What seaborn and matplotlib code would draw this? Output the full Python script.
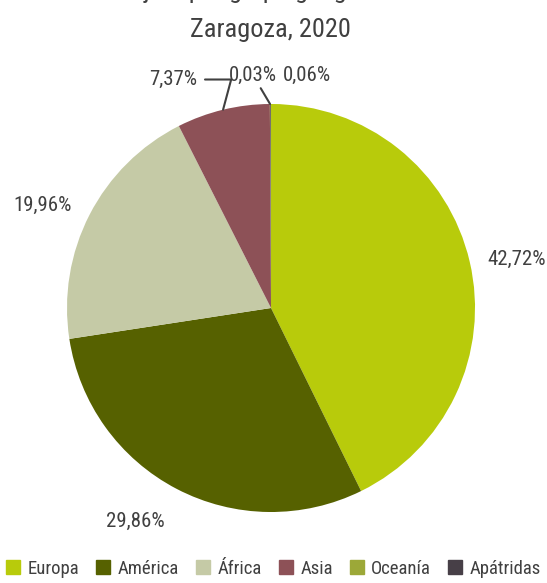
import numpy as np
import matplotlib
matplotlib.use("Agg")
import matplotlib.pyplot as plt
import seaborn as sns

# datos: poblacion extranjera por grupo geografico
grupos = ["Europa", "América", "África", "Asia", "Oceanía", "Apátridas"]
porcentajes = [42.72, 29.86, 19.96, 7.37, 0.03, 0.06]
colores = ["#B8CB0B", "#566100", "#C5CAA6", "#8D5157", "#9CA838", "#473F47"]
etiquetas = ["42,72%", "29,86%", "19,96%", "7,37%", "0,03%", "0,06%"]

sns.set_theme(style="white")
plt.rcParams["font.family"] = ["Roboto Condensed", "Liberation Sans Narrow",
                               "Roboto", "DejaVu Sans"]
gris = "#404040"

fig = plt.figure(figsize=(5.47, 5.83), dpi=100)
# ejes cuadrados para que el pastel quede centrado como en el original
ax = fig.add_axes([-0.0267, -0.0182, 1.0443, 0.9798])

wedges, _ = ax.pie(porcentajes, colors=colores, startangle=90,
                   counterclock=False, radius=1,
                   wedgeprops=dict(linewidth=0))
ax.set_xlim(-1.4, 1.4)
ax.set_ylim(-1.4, 1.4)
ax.set_aspect("equal")
ax.axis("off")

# etiquetas grandes fuera del pastel (distancia y giro leve en grados)
dist = [1.225, 1.24, 1.23]
giro = [-2, -5, 3]
for w, txt, d, g in zip(wedges[:3], etiquetas[:3], dist, giro):
    ang = np.deg2rad((w.theta1 + w.theta2) / 2 + g)
    ax.text(d * np.cos(ang), d * np.sin(ang), txt,
            ha="center", va="center", fontsize=15, color=gris)

# Asia con linea guia
w = wedges[3]
ang = np.deg2rad((w.theta1 + w.theta2) / 2)
x0, y0 = np.cos(ang), np.sin(ang)
ax.annotate(etiquetas[3], xy=(x0, y0), xytext=(-0.36, 1.12),
            ha="right", va="center", fontsize=15, color=gris,
            arrowprops=dict(arrowstyle="-", color=gris, lw=1.5,
                            shrinkA=3, shrinkB=0,
                            connectionstyle="angle,angleA=0,angleB=75,rad=0"))

# Oceania y Apatridas
w = wedges[4]
ang = np.deg2rad((w.theta1 + w.theta2) / 2)
ax.annotate(etiquetas[4], xy=(np.cos(ang), np.sin(ang)), xytext=(0.03, 1.14),
            ha="right", va="center", fontsize=15, color=gris,
            arrowprops=dict(arrowstyle="-", color=gris, lw=1.5,
                            shrinkA=0, shrinkB=0))
ax.text(0.06, 1.14, etiquetas[5], ha="left", va="center",
        fontsize=15, color=gris)

# titulo (la primera linea queda cortada en el original)
fig.text(0.5, 1.016, "Población extranjera por grupo geográfico de nacionalidad",
         ha="center", va="center", fontsize=19, color=gris)
fig.text(0.495, 0.948, "Zaragoza, 2020", ha="center", va="center",
         fontsize=19, color=gris)

handles = [plt.Rectangle((0, 0), 1, 1, color=c) for c in colores]
fig.legend(handles, grupos, loc="lower center", ncol=6, frameon=False,
           bbox_to_anchor=(0.5, -0.02), fontsize=13.5, handlelength=0.75,
           handleheight=0.75, handletextpad=0.4, columnspacing=0.9,
           labelcolor=gris)

fig.savefig("out.png", dpi=100)
